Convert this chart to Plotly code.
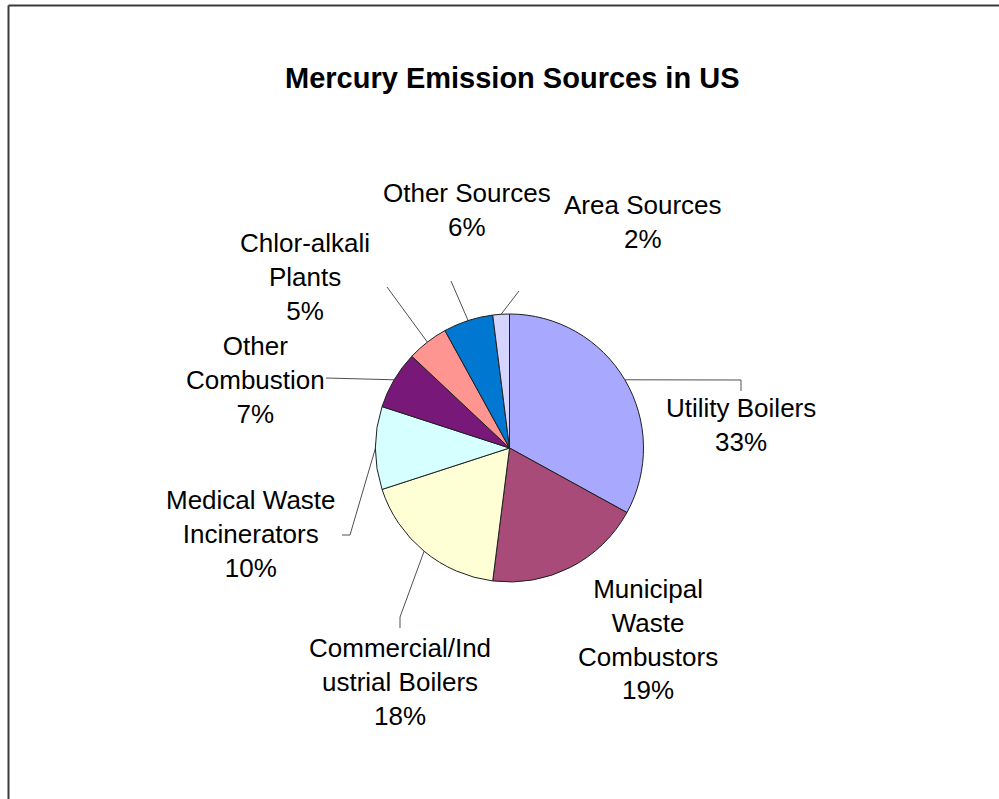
import math
import plotly.graph_objects as go

# ---- data -------------------------------------------------------------
categories = [
    "Utility Boilers",
    "Municipal Waste Combustors",
    "Commercial/Industrial Boilers",
    "Medical Waste Incinerators",
    "Other Combustion",
    "Chlor-alkali Plants",
    "Other Sources",
    "Area Sources",
]
shares = [33, 19, 18, 10, 7, 5, 6, 2]
label_lines = [
    "Utility Boilers",
    "Municipal<br>Waste<br>Combustors",
    "Commercial/Ind<br>ustrial Boilers",
    "Medical Waste<br>Incinerators",
    "Other<br>Combustion",
    "Chlor-alkali<br>Plants",
    "Other Sources",
    "Area Sources",
]
colors = ["#A8A8FF", "#A84B78", "#FFFFD6", "#D6FFFF",
          "#781878", "#FF9590", "#0077D0", "#D4D4FF"]
title_text = "Mercury Emission Sources in US"

# ---- layout (pixels, origin top-left) ----------------------------------
W, H = 999, 799
CX, CY, R = 509.5, 448.0, 134.0
label_pos = [(741, 425), (648, 639), (400, 682), (251, 534),
             (255, 380), (305, 277), (467, 210), (643, 222)]
# leader-line path after the rim point (None = no leader)
leader_path = [
    [(741, 380), (741, 391)],
    None,
    [(400, 617), (400, 628)],
    [(350, 535), (342, 535)],
    [(326, 378)],
    [(387, 287)],
    [(451, 281)],
    [(519, 291)],
]


def px(x, y):
    return x / W, 1 - y / H


fig = go.Figure()

fig.add_trace(go.Pie(
    labels=categories,
    values=shares,
    sort=False,
    direction="clockwise",
    rotation=0,
    textinfo="none",
    hoverinfo="label+percent",
    marker=dict(colors=colors, line=dict(color="#202020", width=1)),
    domain=dict(x=[(CX - R) / W, (CX + R) / W],
                y=[1 - (CY + R) / H, 1 - (CY - R) / H]),
    showlegend=False,
))

# leader lines from each slice's mid-angle on the rim
total = sum(shares)
cum = 0.0
for i, v in enumerate(shares):
    mid = (cum + v / 2) / total * 2 * math.pi
    cum += v
    if leader_path[i] is None:
        continue
    rx = CX + R * math.sin(mid)
    ry = CY - R * math.cos(mid)
    pts = [(rx, ry)] + leader_path[i]
    fig.add_trace(go.Scatter(
        x=[p[0] for p in pts], y=[p[1] for p in pts],
        mode="lines", line=dict(color="#505050", width=1),
        hoverinfo="skip", showlegend=False,
        xaxis="x", yaxis="y",
    ))

annotations = []
for name, v, (lx, ly) in zip(label_lines, shares, label_pos):
    ax, ay = px(lx, ly)
    annotations.append(dict(
        text=f"{name}<br>{v}%", x=ax, y=ay, xref="paper", yref="paper",
        xanchor="center", yanchor="middle", showarrow=False, align="center",
        font=dict(family="Liberation Sans, Arial, sans-serif", size=26,
                  color="#000000"),
    ))
tx, ty = px(512, 78)
annotations.append(dict(
    text=f"<b>{title_text}</b>", x=tx, y=ty, xref="paper", yref="paper",
    xanchor="center", yanchor="middle", showarrow=False,
    font=dict(family="Liberation Sans, Arial, sans-serif", size=29,
              color="#000000"),
))

# chart frame (top and left edges)
bx0, by0 = 8.5, 5.5
shapes = [
    dict(type="line", xref="x", yref="y", x0=bx0, y0=by0, x1=W + 5, y1=by0,
         line=dict(color="#3a3a3a", width=2)),
    dict(type="line", xref="x", yref="y", x0=bx0, y0=by0, x1=bx0, y1=H + 5,
         line=dict(color="#3a3a3a", width=2)),
]

fig.update_layout(
    width=W, height=H,
    margin=dict(l=0, r=0, t=0, b=0),
    paper_bgcolor="#FFFFFF", plot_bgcolor="rgba(0,0,0,0)",
    xaxis=dict(range=[0, W], domain=[0, 1], visible=False, fixedrange=True),
    yaxis=dict(range=[H, 0], domain=[0, 1], visible=False, fixedrange=True),
    annotations=annotations,
    shapes=shapes,
)

fig.write_html("out.html")
